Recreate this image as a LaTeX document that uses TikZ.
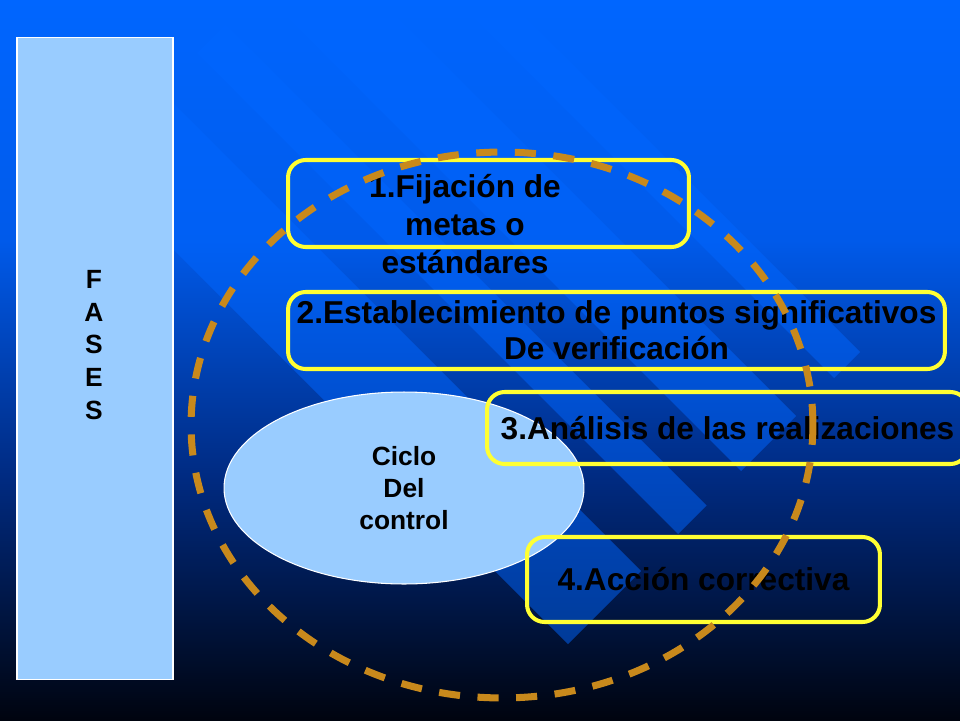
\documentclass[tikz,border=0pt]{standalone}
\usepackage{fontspec}
\setmainfont{Liberation Sans}
\usetikzlibrary{shapes.geometric}
\definecolor{topblue}{HTML}{0066FF}
\definecolor{midblue}{HTML}{005AEA}
\definecolor{lowblue}{HTML}{002A80}
\definecolor{nightblue}{HTML}{00040F}
\definecolor{paleblue}{HTML}{99CCFF}
\definecolor{boxyellow}{HTML}{FFFF33}
\definecolor{ringgold}{HTML}{C8891C}
\tikzset{
  stripe/.style={fill=topblue, fill opacity=0.5},
  fase/.style={draw=white, line width=0.6pt, fill=paleblue},
  etapa/.style={draw=boxyellow, line width=2.3pt, rounded corners=10pt, inner sep=0pt, align=center,
    font=\fontsize{18}{20.5}\selectfont\bfseries},
}
\begin{document}
\begin{tikzpicture}[x=0.02cm,y=-0.02cm]
\useasboundingbox (0,0) rectangle (960,720);
\clip (0,0) rectangle (960,720);
% background
\shade[top color=topblue, bottom color=midblue] (0,0) rectangle (960,240);
\shade[top color=midblue, bottom color=lowblue] (0,240) rectangle (960,480);
\shade[top color=lowblue, bottom color=nightblue] (0,480) rectangle (960,720);
\fill[stripe] (87,163) -- (568,644) -- (641,571) -- (160,90) -- cycle;
\fill[stripe] (197,53) -- (678,534) -- (706.5,505.5) -- (225.5,24.5) -- cycle;
\fill[stripe] (260,-10) -- (741,471) -- (796,416) -- (315,-65) -- cycle;
\fill[stripe] (353,-103) -- (834,378) -- (860,352) -- (379,-129) -- cycle;
% fases
\node[fase, rectangle, minimum width=3.12cm, minimum height=12.86cm] (fases) at (95,358.5) {};
\node[align=center, font=\fontsize{15}{18.7}\selectfont\bfseries] (fasestext) at (94,345) {F\\A\\S\\E\\S};
% ciclo
\node[fase, ellipse, minimum width=7.2cm, minimum height=3.84cm, inner sep=0pt, align=center,
  font=\fontsize{15}{18.1}\selectfont\bfseries] (ciclo) at (404,488) {Ciclo\\Del\\control};
% etapas
\node[etapa, minimum width=8.02cm, minimum height=1.74cm] (fijacion) at (488.5,203.5) {};
\node[align=center, font=\fontsize{18}{21.5}\selectfont\bfseries] (fijaciontext) at (465,224)
  {1.Fijación de\\metas o\\estándares};
\node[etapa, minimum width=13.14cm, minimum height=1.54cm] (verificacion) at (616.5,330.5)
  {2.Establecimiento de puntos significativos\\De verificación};
\node[etapa, minimum width=9.62cm, minimum height=1.44cm] (analisis) at (727.5,428)
  {3.Análisis de las realizaciones};
\node[etapa, minimum width=7.06cm, minimum height=1.70cm] (accion) at (703.5,579.5)
  {4.Acción correctiva};
% ciclo punteado
\node[ellipse, draw=ringgold, line width=4pt, dash pattern=on 12pt off 10pt,
  minimum width=12.44cm, minimum height=10.92cm] (anillo) at (502,425) {};
\end{tikzpicture}
\end{document}
